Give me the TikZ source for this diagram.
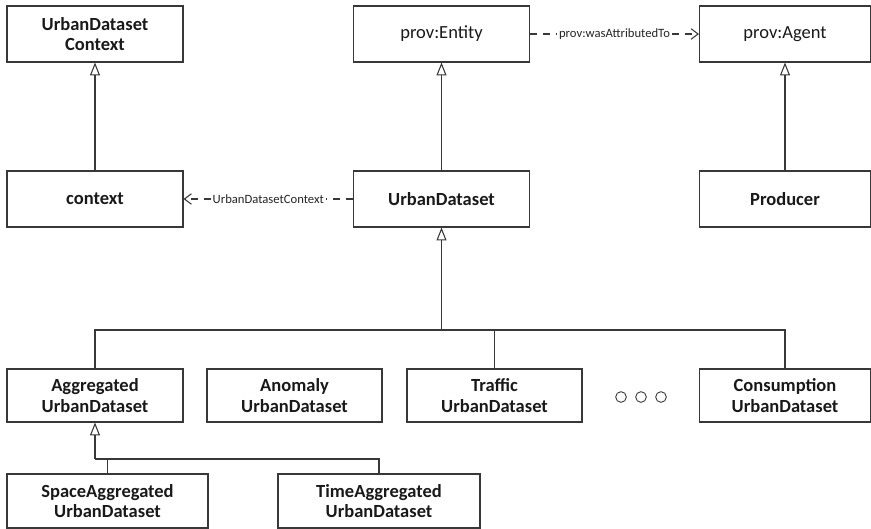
\documentclass[tikz,border=0pt]{standalone}
\usepackage{fontspec}
\setmainfont{Carlito}
\usetikzlibrary{arrows.meta}
\tikzset{
  cls/.style={draw=black!78, line width=0.9pt, align=center, text=black!90,
    font=\bfseries\fontsize{15.8}{17.5}\selectfont,
    minimum width=5.28cm, minimum height=1.68cm, inner sep=2pt},
  plaincls/.style={cls, font=\fontsize{15.8}{17.5}\selectfont},
  inh/.style={draw=black!78, line width=0.9pt, -{Triangle[open, length=11pt, width=8.5pt]}},
  plainline/.style={draw=black!78, line width=0.9pt},
  dep/.style={draw=black!78, line width=0.9pt, dash pattern=on 6pt off 5pt,
    -{Straight Barb[length=6pt, width=9pt]}},
  deplabel/.style={fill=white, inner sep=1.5pt, text=black!85,
    font=\fontsize{10.8}{12}\selectfont}
}
\begin{document}
\begin{tikzpicture}[x=0.03cm, y=-0.03cm]
\useasboundingbox (0,0) rectangle (871,528);
% top row
\node[cls] (ctxclass) at (95,34) {UrbanDataset\\Context};
\node[plaincls] (entity) at (441.5,34) {prov:Entity};
\node[plaincls, minimum width=5.13cm] (agent) at (785,34) {prov:Agent};
% second row
\node[cls] (context) at (95,199) {context};
\node[cls] (urban) at (441.5,199) {UrbanDataset};
\node[cls, minimum width=5.13cm] (producer) at (785,199) {Producer};
% specialisations
\node[cls, minimum height=1.59cm] (aggregated) at (95,395.5) {Aggregated\\UrbanDataset};
\node[cls, minimum width=5.25cm, minimum height=1.59cm] (anomaly) at (294.5,395.5) {Anomaly\\UrbanDataset};
\node[cls, minimum width=5.25cm, minimum height=1.59cm] (traffic) at (494.5,395.5) {Traffic\\UrbanDataset};
\node[cls, minimum width=5.13cm, minimum height=1.59cm] (consumption) at (785,395.5) {Consumption\\UrbanDataset};
\node[cls, minimum width=6.03cm, minimum height=1.62cm] (spaceagg) at (107.5,501) {SpaceAggregated\\UrbanDataset};
\node[cls, minimum width=6.06cm, minimum height=1.62cm] (timeagg) at (379,501) {TimeAggregated\\UrbanDataset};
% ellipsis
\draw[black!78, line width=0.75pt] (621,397) circle[radius=0.16cm];
\draw[black!78, line width=0.75pt] (641,397) circle[radius=0.16cm];
\draw[black!78, line width=0.75pt] (661,397) circle[radius=0.16cm];
% inheritance
\draw[inh] (context) -- (ctxclass);
\draw[inh] (urban) -- (entity);
\draw[inh] (producer) -- (agent);
\coordinate (bus) at (441.5,330);
\draw[inh] (bus) -- (urban.south);
\draw[plainline] (aggregated.north) |- (bus);
\draw[plainline] (traffic.north) |- (bus);
\draw[plainline] (consumption.north) |- (bus);
\coordinate (aggbus) at (95,459);
\draw[inh] (aggbus) -- (aggregated.south);
\draw[plainline] (spaceagg.north) |- (aggbus);
\draw[plainline] (timeagg.north) |- (aggbus);
% dependencies
\draw[dep] (urban.west) -- node[deplabel]{UrbanDatasetContext} (context.east);
\draw[dep] (entity.east) -- node[deplabel]{prov:wasAttributedTo} (agent.west);
\end{tikzpicture}
\end{document}
